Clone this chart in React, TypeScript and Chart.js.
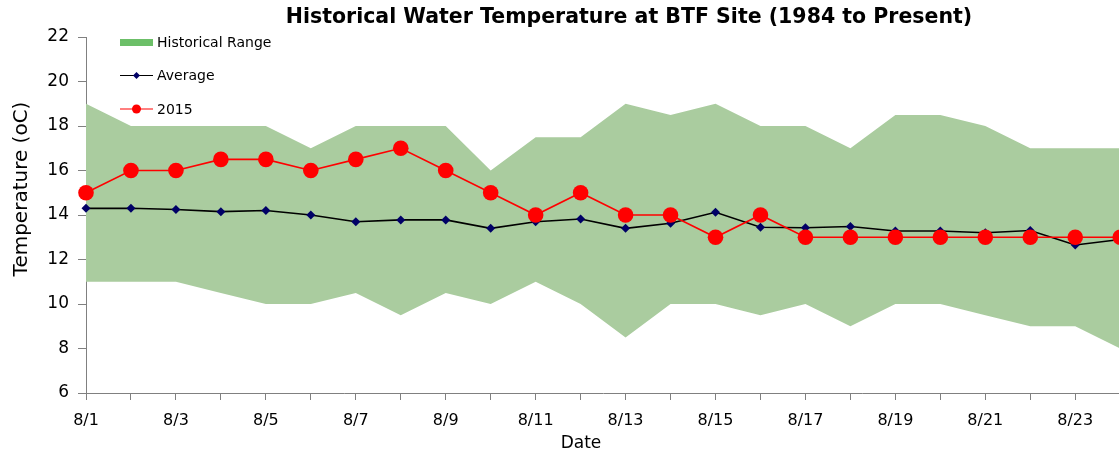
import React, { useEffect, useRef } from "react";
import { Chart, registerables } from "chart.js";

Chart.register(...registerables);

const dates = [
  "8/1", "8/2", "8/3", "8/4", "8/5", "8/6", "8/7", "8/8", "8/9", "8/10", "8/11", "8/12",
  "8/13", "8/14", "8/15", "8/16", "8/17", "8/18", "8/19", "8/20", "8/21", "8/22", "8/23", "8/24",
];
const rangeHigh = [19, 18, 18, 18, 18, 17, 18, 18, 18, 16, 17.5, 17.5, 19, 18.5, 19, 18, 18, 17, 18.5, 18.5, 18, 17, 17, 17];
const rangeLow = [11, 11, 11, 10.5, 10, 10, 10.5, 9.5, 10.5, 10, 11, 10, 8.5, 10, 10, 9.5, 10, 9, 10, 10, 9.5, 9, 9, 8];
const average = [14.3, 14.3, 14.25, 14.15, 14.2, 14.0, 13.7, 13.78, 13.78, 13.4, 13.7, 13.82, 13.4, 13.63, 14.12, 13.45, 13.43, 13.48, 13.28, 13.28, 13.2, 13.3, 12.65, 12.9];
const year2015 = [15, 16, 16, 16.5, 16.5, 16, 16.5, 17, 16, 15, 14, 15, 14, 14, 13, 14, 13, 13, 13, 13, 13, 13, 13, 13];

const TITLE = "Historical Water Temperature at BTF Site (1984 to Present)";
const Y_TITLE = "Temperature (oC)";
const X_TITLE = "Date";
const FONT = '"DejaVu Sans", Verdana, sans-serif';

const BAND_COLOR = "#AACC9F";
const BAND_LEGEND_COLOR = "#6CBF68";
const AVG_LINE = "#000000";
const AVG_POINT = "#000066";
const RED = "#FF0000";

const CANVAS_W = 1128;
const VIEW_W = 1119;
const VIEW_H = 457;

const decorPlugin = {
  id: "decor",
  afterDraw(chart: any) {
    const ctx = chart.ctx;
    const area = chart.chartArea;
    ctx.save();
    ctx.fillStyle = "#000";
    // title
    ctx.font = `bold 20.5px ${FONT}`;
    ctx.textAlign = "center";
    ctx.textBaseline = "middle";
    ctx.fillText(TITLE, 629, 18);
    // x title
    ctx.font = `17px ${FONT}`;
    ctx.fillText(X_TITLE, 581, 444);
    // y title
    ctx.save();
    ctx.translate(22, 189);
    ctx.rotate(-Math.PI / 2);
    ctx.font = `20px ${FONT}`;
    ctx.fillText(Y_TITLE, 0, 0);
    ctx.restore();

    // legend
    const x0 = area.left + 34;
    const len = 33;
    const rows = [area.top + 5.5, area.top + 38.5, area.top + 72];
    ctx.font = `14px ${FONT}`;
    ctx.textAlign = "left";
    // band
    ctx.fillStyle = BAND_LEGEND_COLOR;
    ctx.fillRect(x0, rows[0] - 3.5, len, 7);
    ctx.fillStyle = "#000";
    ctx.fillText("Historical Range", x0 + len + 4, rows[0] + 1);
    // average
    ctx.strokeStyle = AVG_LINE;
    ctx.lineWidth = 1.2;
    ctx.beginPath();
    ctx.moveTo(x0, rows[1]);
    ctx.lineTo(x0 + len, rows[1]);
    ctx.stroke();
    ctx.fillStyle = AVG_POINT;
    const cx = x0 + len / 2;
    ctx.beginPath();
    ctx.moveTo(cx, rows[1] - 3.5);
    ctx.lineTo(cx + 3.5, rows[1]);
    ctx.lineTo(cx, rows[1] + 3.5);
    ctx.lineTo(cx - 3.5, rows[1]);
    ctx.closePath();
    ctx.fill();
    ctx.fillStyle = "#000";
    ctx.fillText("Average", x0 + len + 4, rows[1] + 1);
    // 2015
    ctx.strokeStyle = RED;
    ctx.beginPath();
    ctx.moveTo(x0, rows[2]);
    ctx.lineTo(x0 + len, rows[2]);
    ctx.stroke();
    ctx.fillStyle = RED;
    ctx.beginPath();
    ctx.arc(cx, rows[2], 4.5, 0, Math.PI * 2);
    ctx.fill();
    ctx.fillStyle = "#000";
    ctx.fillText("2015", x0 + len + 4, rows[2] + 1);
    ctx.restore();
  },
};

export default function App() {
  const ref = useRef<HTMLCanvasElement | null>(null);

  useEffect(() => {
    if (!ref.current) return;
    const chart = new Chart(ref.current, {
      type: "line",
      data: {
        labels: dates,
        datasets: [
          {
            label: "2015",
            data: year2015,
            borderColor: RED,
            borderWidth: 1.6,
            backgroundColor: RED,
            pointBackgroundColor: RED,
            pointBorderColor: RED,
            pointBorderWidth: 0,
            pointRadius: 7.8,
            pointStyle: "circle",
            fill: false,
            clip: false,
            tension: 0,
          },
          {
            label: "Average",
            data: average,
            borderColor: AVG_LINE,
            borderWidth: 1.6,
            backgroundColor: AVG_POINT,
            pointBackgroundColor: AVG_POINT,
            pointBorderColor: AVG_POINT,
            pointBorderWidth: 0,
            pointRadius: 4.5,
            pointStyle: "rectRot",
            fill: false,
            clip: false,
            tension: 0,
          },
          {
            label: "Historical Range",
            data: rangeHigh,
            borderWidth: 0,
            borderColor: "rgba(0,0,0,0)",
            backgroundColor: BAND_COLOR,
            pointRadius: 0,
            fill: "+1",
            tension: 0,
          },
          {
            label: "Historical Low",
            data: rangeLow,
            borderWidth: 0,
            borderColor: "rgba(0,0,0,0)",
            backgroundColor: BAND_COLOR,
            pointRadius: 0,
            fill: false,
            tension: 0,
          },
        ],
      },
      options: {
        responsive: false,
        animation: false,
        devicePixelRatio: 1,
        layout: { padding: { top: 37, right: 0, bottom: 0, left: 0 } },
        plugins: {
          legend: { display: false },
          title: { display: false },
          tooltip: { enabled: false },
          filler: { drawTime: "beforeDatasetsDraw" },
        } as any,
        scales: {
          x: {
            type: "category",
            offset: false,
            grid: {
              display: true,
              drawOnChartArea: false,
              drawTicks: true,
              tickLength: 7,
              color: "#808080",
              lineWidth: 1,
            },
            border: { display: true, color: "#808080", width: 1 },
            ticks: {
              autoSkip: false,
              maxRotation: 0,
              minRotation: 0,
              padding: 11,
              color: "#000",
              font: { family: FONT, size: 16 },
              callback: (_v: any, i: number) => (i % 2 === 0 ? dates[i] : ""),
            },
            afterFit: (s: any) => {
              s.height = 64;
              s.paddingRight = 0;
              s.paddingLeft = 0;
            },
          },
          y: {
            min: 6,
            max: 22,
            grid: {
              display: true,
              drawOnChartArea: false,
              drawTicks: true,
              tickLength: 8,
              color: "#808080",
              lineWidth: 1,
            },
            border: { display: true, color: "#808080", width: 1 },
            ticks: {
              stepSize: 2,
              padding: 9,
              color: "#000",
              font: { family: FONT, size: 17 },
            },
            afterFit: (s: any) => {
              s.width = 86;
            },
          },
        },
      },
      plugins: [decorPlugin],
    });
    return () => chart.destroy();
  }, []);

  return (
    <div style={{ position: "fixed", left: 0, top: 0, width: VIEW_W, height: VIEW_H, background: "#fff", overflow: "hidden" }}>
      <canvas ref={ref} width={CANVAS_W} height={VIEW_H} style={{ display: "block", width: CANVAS_W, height: VIEW_H }} />
    </div>
  );
}
